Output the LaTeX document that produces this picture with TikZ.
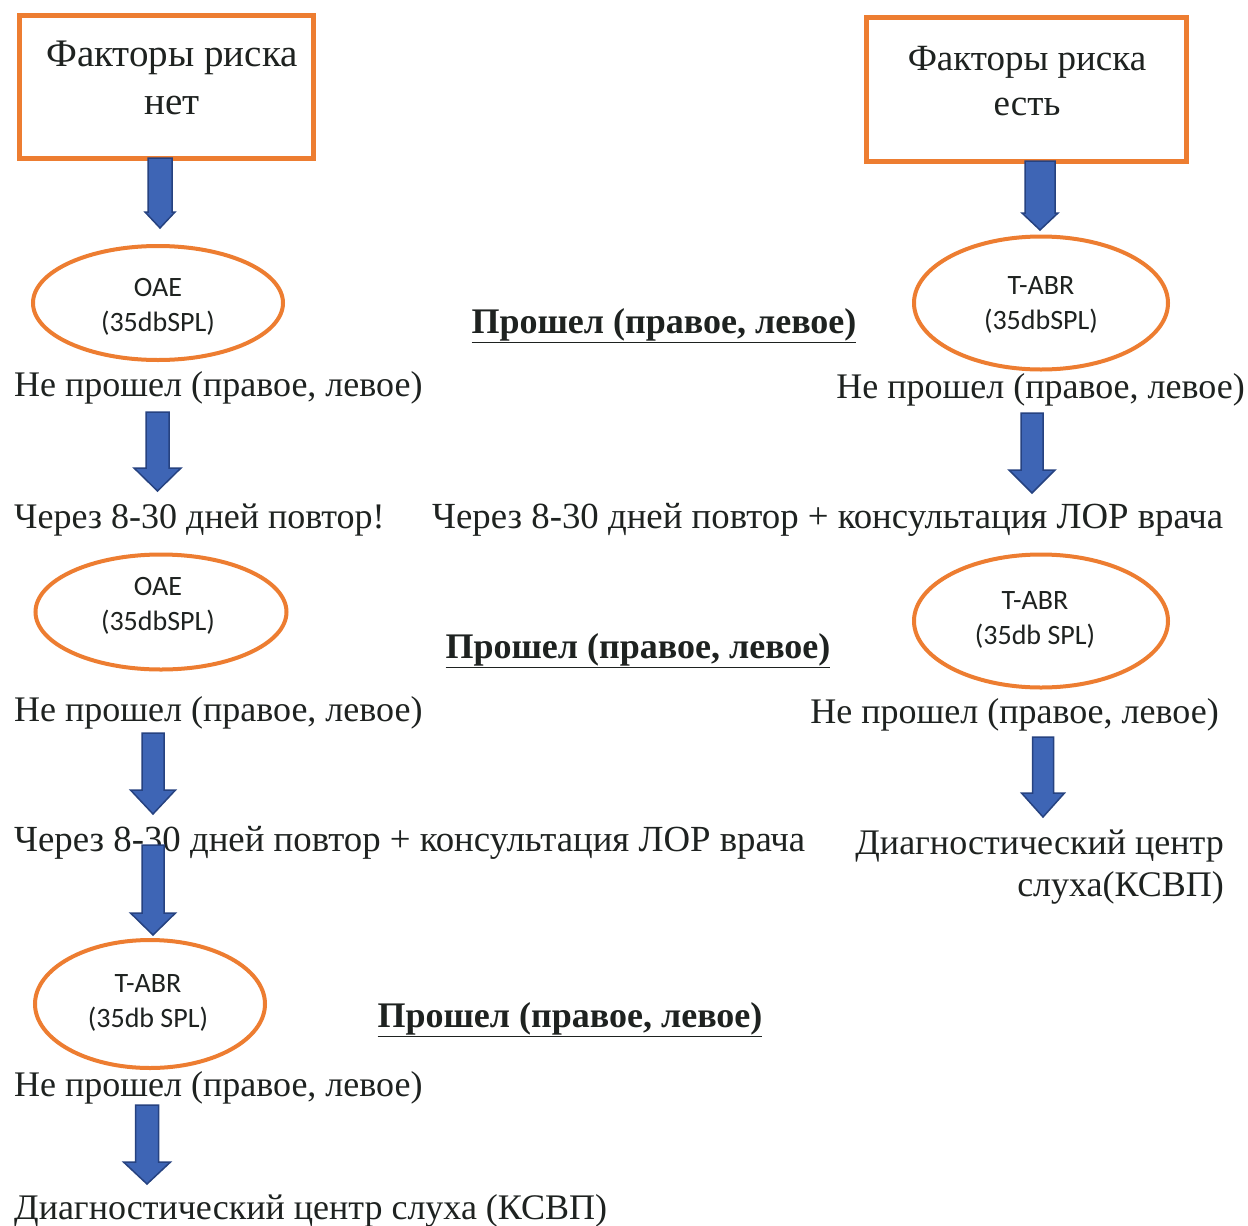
\documentclass[tikz,border=0pt]{standalone}
\usepackage{fontspec}
\setmainfont{Liberation Serif}
\newfontfamily\calib{Carlito}
\usetikzlibrary{shapes.geometric,calc}
\definecolor{orng}{RGB}{237,125,49}
\definecolor{ablue}{RGB}{62,101,181}
\definecolor{adark}{RGB}{38,66,128}
\definecolor{textcol}{RGB}{30,34,32}
\tikzset{
  txt/.style={font=\fontsize{36}{44}\selectfont, text=textcol, inner sep=0pt},
  widetxt/.style={font=\fontsize{36.8}{44}\selectfont, text=textcol, inner sep=0pt},
  boldtxt/.style={font=\fontsize{36}{44}\selectfont\bfseries, text=textcol, inner sep=0pt},
  riskbox/.style={draw=orng, line width=5pt, rectangle, inner sep=0pt},
  testell/.style={draw=orng, line width=4pt, ellipse, inner sep=0pt},
  elltxt/.style={font=\calib\fontsize{28}{35}\selectfont, text=textcol, align=center, inner sep=0pt},
  arrowstyle/.style={fill=ablue, draw=adark, line width=1.5pt, line join=miter}
}
\newcommand\blockarrow[5]{%
  \path[arrowstyle] let \p1=(#1), \p2=(#2) in
   (\x1-#3pt,\y1) -- (\x1+#3pt,\y1) -- (\x1+#3pt,\y2+#5pt) -- (\x1+#4pt,\y2+#5pt)
   -- (\x1,\y2) -- (\x1-#4pt,\y2+#5pt) -- (\x1-#3pt,\y2+#5pt) -- cycle;}
\begin{document}
\begin{tikzpicture}[x=1pt,y=-1pt]
\useasboundingbox[fill=white] (0,0) rectangle (1248,1226);

% risk boxes
\node[riskbox, minimum width=294pt, minimum height=143pt] (boxL) at (166,86.5) {};
\node[txt, font=\fontsize{39}{48}\selectfont, align=center] (boxLt) at (172,78) {Факторы риска\\нет};
\node[riskbox, minimum width=320pt, minimum height=144pt] (boxR) at (1026,89) {};
\node[txt, font=\fontsize{37}{45}\selectfont, align=center] (boxRt) at (1027,81) {Факторы риска\\есть};

% ellipses
\node[testell, minimum width=250pt, minimum height=114pt] (e1) at (158,303) {};
\node[elltxt] (e1t) at (158,307) {OAE\\(35dbSPL)};
\node[testell, minimum width=254pt, minimum height=133pt] (e2) at (1041,303) {};
\node[elltxt] (e2t) at (1041,305) {T-ABR\\(35dbSPL)};
\node[testell, minimum width=251pt, minimum height=115pt] (e3) at (161,612) {};
\node[elltxt] (e3t) at (158,606) {OAE\\(35dbSPL)};
\node[testell, minimum width=254pt, minimum height=133pt] (e4) at (1041,621) {};
\node[elltxt] (e4t) at (1035,620) {T-ABR\\(35db SPL)};
\node[testell, minimum width=230pt, minimum height=128pt] (e5) at (150,1004) {};
\node[elltxt] (e5t) at (148,1003) {T-ABR\\(35db SPL)};

% texts
\node[boldtxt, anchor=base] (p1) at (664,333) {\underline{Прошел (правое, левое)}};
\node[txt, anchor=base west] (n1) at (14,396) {Не прошел (правое, левое)};
\node[txt, anchor=base east] (n2) at (1245,398) {Не прошел (правое, левое)};
\node[txt, anchor=base west] (r1) at (14,528) {Через 8-30 дней повтор!};
\node[widetxt, anchor=base west] (r2) at (432,528) {Через 8-30 дней повтор + консультация ЛОР врача};
\node[boldtxt, anchor=base] (p2) at (638,658) {\underline{Прошел (правое, левое)}};
\node[txt, anchor=base west] (n3) at (14,721) {Не прошел (правое, левое)};
\node[txt, anchor=base east] (n4) at (1219,723) {Не прошел (правое, левое)};
\node[widetxt, anchor=base west] (r3) at (14,851) {Через 8-30 дней повтор + консультация ЛОР врача};
\node[txt, anchor=base east] (d1a) at (1224,854) {Диагностический центр};
\node[txt, anchor=base east] (d1b) at (1224,896) {слуха(КСВП)};
\node[boldtxt, anchor=base] (p3) at (570,1027) {\underline{Прошел (правое, левое)}};
\node[txt, anchor=base west] (n5) at (14,1096) {Не прошел (правое, левое)};
\node[txt, anchor=base west] (d2) at (14,1219) {Диагностический центр слуха (КСВП)};

% arrow end points
\coordinate (a1s) at (160,158);  \coordinate (a1e) at (160,228);
\coordinate (a2s) at (1040,161); \coordinate (a2e) at (1040,230);
\coordinate (a3s) at (157.5,412); \coordinate (a3e) at (157.5,491);
\coordinate (a4s) at (1032,413); \coordinate (a4e) at (1032,493);
\coordinate (a5s) at (153,733);  \coordinate (a5e) at (153,814);
\coordinate (a6s) at (153,845);  \coordinate (a6e) at (153,935);
\coordinate (a7s) at (1043,737); \coordinate (a7e) at (1043,817);
\coordinate (a8s) at (147,1105); \coordinate (a8e) at (147,1184);

\blockarrow{a1s}{a1e}{12}{15}{16}
\blockarrow{a2s}{a2e}{15}{18}{17}
\blockarrow{a3s}{a3e}{11.5}{23.5}{23}
\blockarrow{a4s}{a4e}{11}{23}{23}
\blockarrow{a5s}{a5e}{11}{22.5}{24}
\blockarrow{a6s}{a6e}{11}{22.5}{22}
\blockarrow{a7s}{a7e}{10.5}{21.5}{24}
\blockarrow{a8s}{a8e}{11.5}{23.5}{22}
\end{tikzpicture}
\end{document}
